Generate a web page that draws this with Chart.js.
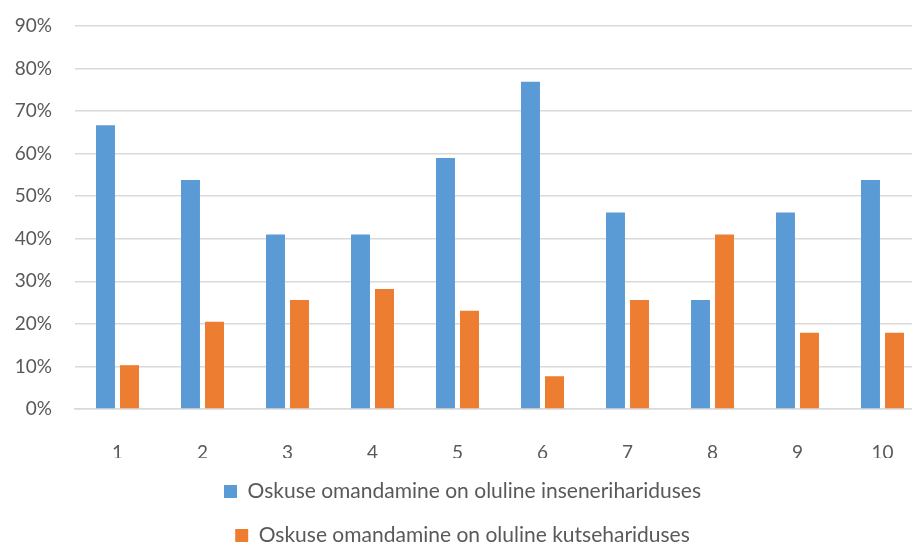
<!DOCTYPE html>
<html>
<head>
<meta charset="utf-8">
<script src="https://cdn.jsdelivr.net/npm/chart.js@4/dist/chart.umd.min.js"></script>
<style>
  html, body { margin: 0; padding: 0; background: #fff; overflow: hidden; }
  #wrap { width: 925px; height: 556px; }
</style>
</head>
<body>
<div id="wrap"><canvas id="chart" width="925" height="556"></canvas></div>
<script>
const categories = ["1", "2", "3", "4", "5", "6", "7", "8", "9", "10"];
const seriesNames = [
  "Oskuse omandamine on oluline insenerihariduses",
  "Oskuse omandamine on oluline kutsehariduses",
];
const inseneri = [66.7, 53.8, 41.0, 41.0, 59.0, 76.9, 46.2, 25.6, 46.2, 53.8];
const kutse = [10.3, 20.5, 25.6, 28.2, 23.1, 7.7, 25.6, 41.0, 17.9, 17.9];

const FONT = "Lato, 'Noto Sans', sans-serif";
const TEXT = "#595959";
const GRID = "#d9d9d9";

new Chart(document.getElementById("chart"), {
  type: "bar",
  data: {
    labels: categories,
    datasets: [
      { label: seriesNames[0], data: inseneri, backgroundColor: "#5b9bd5", categoryPercentage: 0.565, barPercentage: 0.79 },
      { label: seriesNames[1], data: kutse, backgroundColor: "#ed7d31", categoryPercentage: 0.565, barPercentage: 0.79 },
    ],
  },
  options: {
    responsive: false,
    animation: false,
    layout: { padding: { top: 26, left: 0, right: 0, bottom: 0 } },
    plugins: {
      tooltip: { enabled: false },
      legend: {
        position: "bottom",
        labels: {
          color: TEXT,
          font: { family: FONT, size: 21 },
          boxWidth: 13,
          boxHeight: 13,
          padding: 23,
        },
      },
    },
    scales: {
      x: {
        grid: { display: false },
        border: { color: GRID, width: 1.5 },
        ticks: { color: TEXT, font: { family: FONT, size: 19 }, padding: 24 },
        afterFit: (s) => { s.height = 49; },
      },
      y: {
        min: 0,
        max: 90,
        // invisible tick marks push the labels left without inflating the top padding
        grid: { color: GRID, lineWidth: 1.5, drawTicks: true, tickLength: 23, tickColor: "rgba(0,0,0,0)" },
        border: { display: false },
        ticks: {
          stepSize: 10,
          color: TEXT,
          font: { family: FONT, size: 19 },
          padding: 0,
          callback: (v) => v + "%",
        },
        afterFit: (s) => { s.width = 75; },
      },
    },
  },
});
</script>
</body>
</html>
